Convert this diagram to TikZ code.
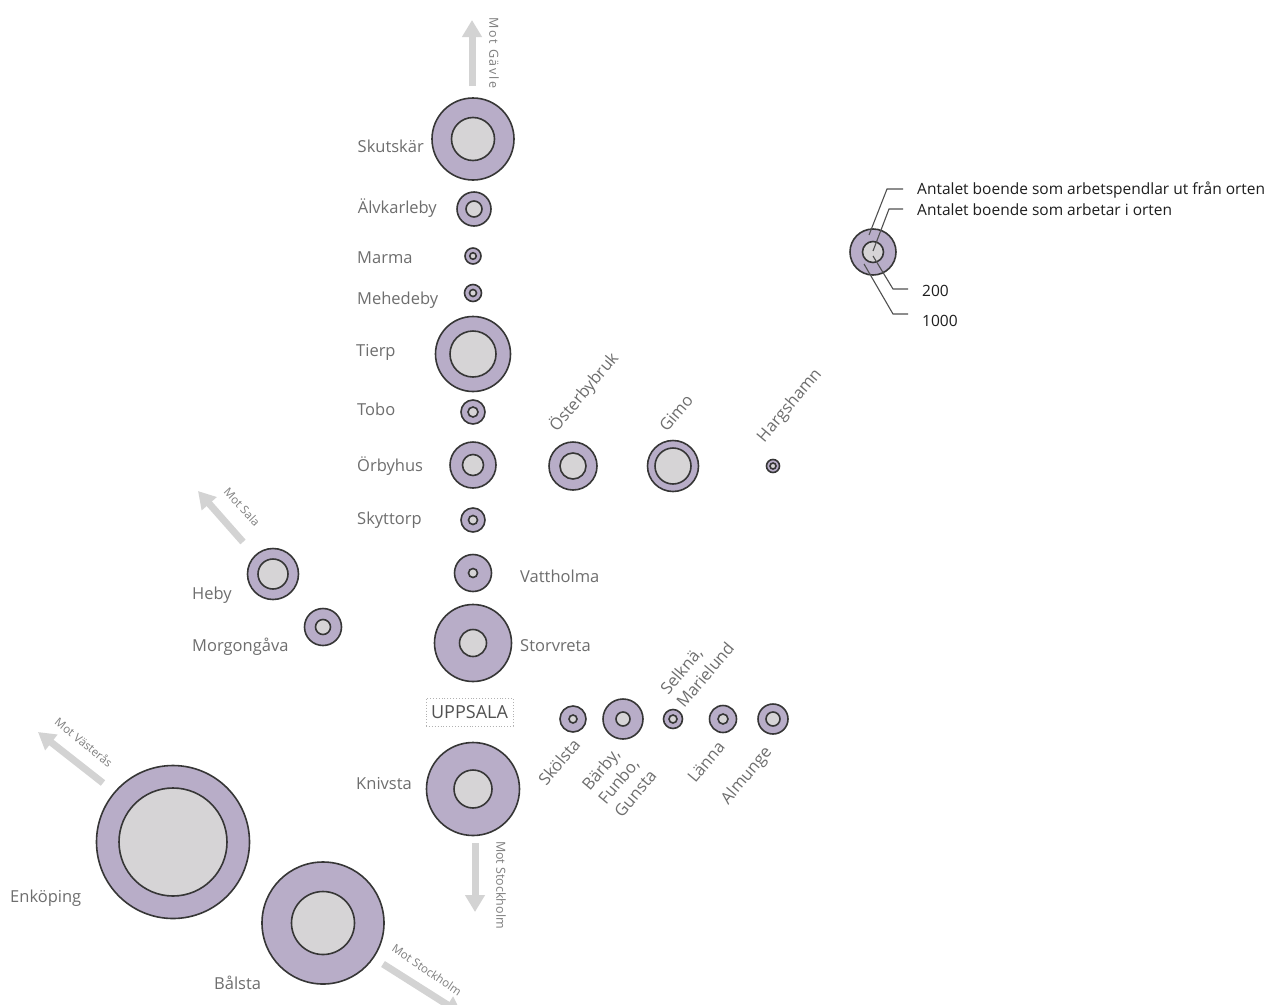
\documentclass[tikz,border=0pt]{standalone}
\usepackage{fontspec}
\setmainfont{Open Sans}
\usetikzlibrary{arrows.meta}
\definecolor{ringc}{HTML}{B8ADC8}
\definecolor{corec}{HTML}{D6D4D6}
\definecolor{edgec}{HTML}{363636}
\definecolor{labc}{HTML}{6E6E6E}
\definecolor{arrc}{HTML}{D3D3D3}
\definecolor{motc}{HTML}{7E7E7E}
\definecolor{legc}{HTML}{1E1E1E}
\definecolor{leglinec}{HTML}{505050}
\tikzset{
  outerc/.style={circle, draw=edgec, fill=ringc, line width=1.6pt, inner sep=0pt},
  innerc/.style={circle, draw=edgec, fill=corec, line width=1.6pt, inner sep=0pt},
  lbl/.style={font=\fontsize{16.5}{21}\selectfont, text=labc, inner sep=0pt, text height=0.75em, text depth=0.2em, yshift=-4pt},
  rlbl/.style={font=\fontsize{16.5}{21}\selectfont, text=labc, inner sep=0pt, rotate=50, align=left},
  motlbl/.style={font=\fontsize{11.5}{13}\selectfont, text=motc, inner sep=0pt},
  motvlbl/.style={font=\fontsize{12.5}{14}\selectfont, text=motc, inner sep=0pt, rotate=-90},
  dirarrow/.style={draw=arrc, line width=7pt, -{Triangle[length=17pt, width=19pt]}},
  leglbl/.style={font=\fontsize{15.5}{18}\selectfont, text=legc, inner sep=0pt, anchor=west, text height=0.75em, text depth=0.2em, yshift=-3pt},
  legline/.style={draw=leglinec, line width=1.1pt},
  citybox/.style={draw=gray!60, dotted, line width=0.9pt, minimum width=87pt, minimum height=28pt, inner sep=0pt,
    font=\fontsize{18}{20}\selectfont, text=black!68}
}
\newcommand\townring[5]{%
  \node[outerc, minimum size=#4pt] (#1) at (#2,#3) {};
  \node[innerc, minimum size=#5pt] (#1-core) at (#1.center) {};}
\begin{document}
\begin{tikzpicture}[x=1pt, y=-1pt]
\useasboundingbox (0,0) rectangle (1268,1004);
\clip (0,0) rectangle (1268,1004);
\fill[white] (0,0) rectangle (1268,1004);

% direction arrows
\coordinate (gavleS) at (472,86);
\coordinate (gavleE) at (472,20);
\draw[dirarrow] (gavleS) -- (gavleE);
\node[motvlbl] (motgavle) at (494,53) {\addfontfeature{LetterSpace=14}Mot Gävle};

\coordinate (salaS) at (243,542);
\coordinate (salaE) at (198,491);
\draw[dirarrow] (salaS) -- (salaE);
\node[motlbl, rotate=-47] (motsala) at (242,507) {Mot Sala};

\coordinate (vasS) at (103,783);
\coordinate (vasE) at (38,732);
\draw[dirarrow] (vasS) -- (vasE);
\node[motlbl, rotate=-39] (motvas) at (84,742) {Mot Västerås};

\coordinate (stoS) at (475,843);
\coordinate (stoE) at (475,912);
\draw[dirarrow] (stoS) -- (stoE);
\node[motvlbl] (motsto) at (501,885) {Mot Stockholm};

\coordinate (sto2S) at (383,964);
\coordinate (sto2E) at (462,1014);
\draw[dirarrow] (sto2S) -- (sto2E);
\node[motlbl, rotate=-34] (motsto2) at (427,970) {Mot Stockholm};

% towns
\townring{skutskar}{473}{139}{82}{43}
\townring{alvkarleby}{474}{209}{34}{16}
\townring{marma}{473}{256}{16}{6.5}
\townring{mehedeby}{473}{293}{17}{7}
\townring{tierp}{473}{354}{75}{46}
\townring{tobo}{473}{412}{24}{10}
\townring{orbyhus}{473}{465}{46}{21}
\townring{osterbybruk}{573}{466}{48}{26}
\townring{gimo}{673}{466}{51}{36}
\townring{hargshamn}{773}{466}{13}{6}
\townring{skyttorp}{473}{520}{24}{9}
\townring{vattholma}{473}{573}{37}{9}
\townring{storvreta}{473}{643}{77}{27}
\townring{heby}{273}{574}{51}{30}
\townring{morgongava}{323}{627}{37}{15}
\townring{skolsta}{573}{719}{26}{8}
\townring{barby}{623}{719}{40}{14}
\townring{selkna}{673}{719}{19}{8}
\townring{lanna}{723}{719}{27}{10}
\townring{almunge}{773}{719}{30}{14}
\townring{knivsta}{473}{789}{93}{38}
\townring{enkoping}{173}{842}{153}{108}
\townring{balsta}{323}{923}{122}{63}

% labels
\node[lbl, anchor=east] (l-skutskar) at (424,146) {Skutskär};
\node[lbl, anchor=east] (l-alvkarleby) at (437,207) {Älvkarleby};
\node[lbl, anchor=west] (l-marma) at (357,257) {Marma};
\node[lbl, anchor=west] (l-mehedeby) at (357,298) {Mehedeby};
\node[lbl, anchor=west] (l-tierp) at (356,350) {Tierp};
\node[lbl, anchor=west] (l-tobo) at (357,409) {Tobo};
\node[lbl, anchor=west] (l-orbyhus) at (357,465) {Örbyhus};
\node[lbl, anchor=west] (l-skyttorp) at (357,518) {Skyttorp};
\node[lbl, anchor=west] (l-vattholma) at (520,576) {Vattholma};
\node[lbl, anchor=west] (l-storvreta) at (520,645) {Storvreta};
\node[lbl, anchor=west] (l-heby) at (192,593) {Heby};
\node[lbl, anchor=west] (l-morgongava) at (192,645) {Morgongåva};
\node[lbl, anchor=east] (l-knivsta) at (412,783) {Knivsta};
\node[lbl, anchor=west] (l-enkoping) at (10,896) {Enköping};
\node[lbl, anchor=west] (l-balsta) at (214,983) {Bålsta};

\node[rlbl] (l-osterbybruk) at (584,392) {Österbybruk};
\node[rlbl] (l-gimo) at (676,413) {Gimo};
\node[rlbl] (l-hargshamn) at (790,406) {Hargshamn};
\node[rlbl] (l-selkna) at (697,668) {Selknä,\\Marielund};
\node[rlbl] (l-skolsta) at (559,762) {Skölsta};
\node[rlbl] (l-barby) at (619,780) {Bärby,\\Funbo,\\Gunsta};
\node[rlbl] (l-lanna) at (706,762) {Länna};
\node[rlbl] (l-almunge) at (747,776) {Almunge};

\node[citybox] (uppsala) at (469.5,712) {UPPSALA};

% legend
\townring{legend}{873}{252}{46}{21}
\coordinate (lg1a) at (869,235);
\coordinate (lg1b) at (887,189);
\coordinate (lg1c) at (903,189);
\coordinate (lg2a) at (873,251);
\coordinate (lg2b) at (889,209);
\coordinate (lg2c) at (903,209);
\coordinate (lg3a) at (873,256);
\coordinate (lg3b) at (893,289);
\coordinate (lg3c) at (908,289);
\coordinate (lg4a) at (864,264);
\coordinate (lg4b) at (893,314);
\coordinate (lg4c) at (908,314);
\draw[legline] (lg1a) -- (lg1b) -- (lg1c);
\draw[legline] (lg2a) -- (lg2b) -- (lg2c);
\draw[legline] (lg3a) -- (lg3b) -- (lg3c);
\draw[legline] (lg4a) -- (lg4b) -- (lg4c);
\node[leglbl] (t1) at (917,189) {Antalet boende som arbetspendlar ut från orten};
\node[leglbl] (t2) at (917,210) {Antalet boende som arbetar i orten};
\node[leglbl] (t3) at (922,291) {200};
\node[leglbl] (t4) at (922,321) {1000};
\end{tikzpicture}
\end{document}
